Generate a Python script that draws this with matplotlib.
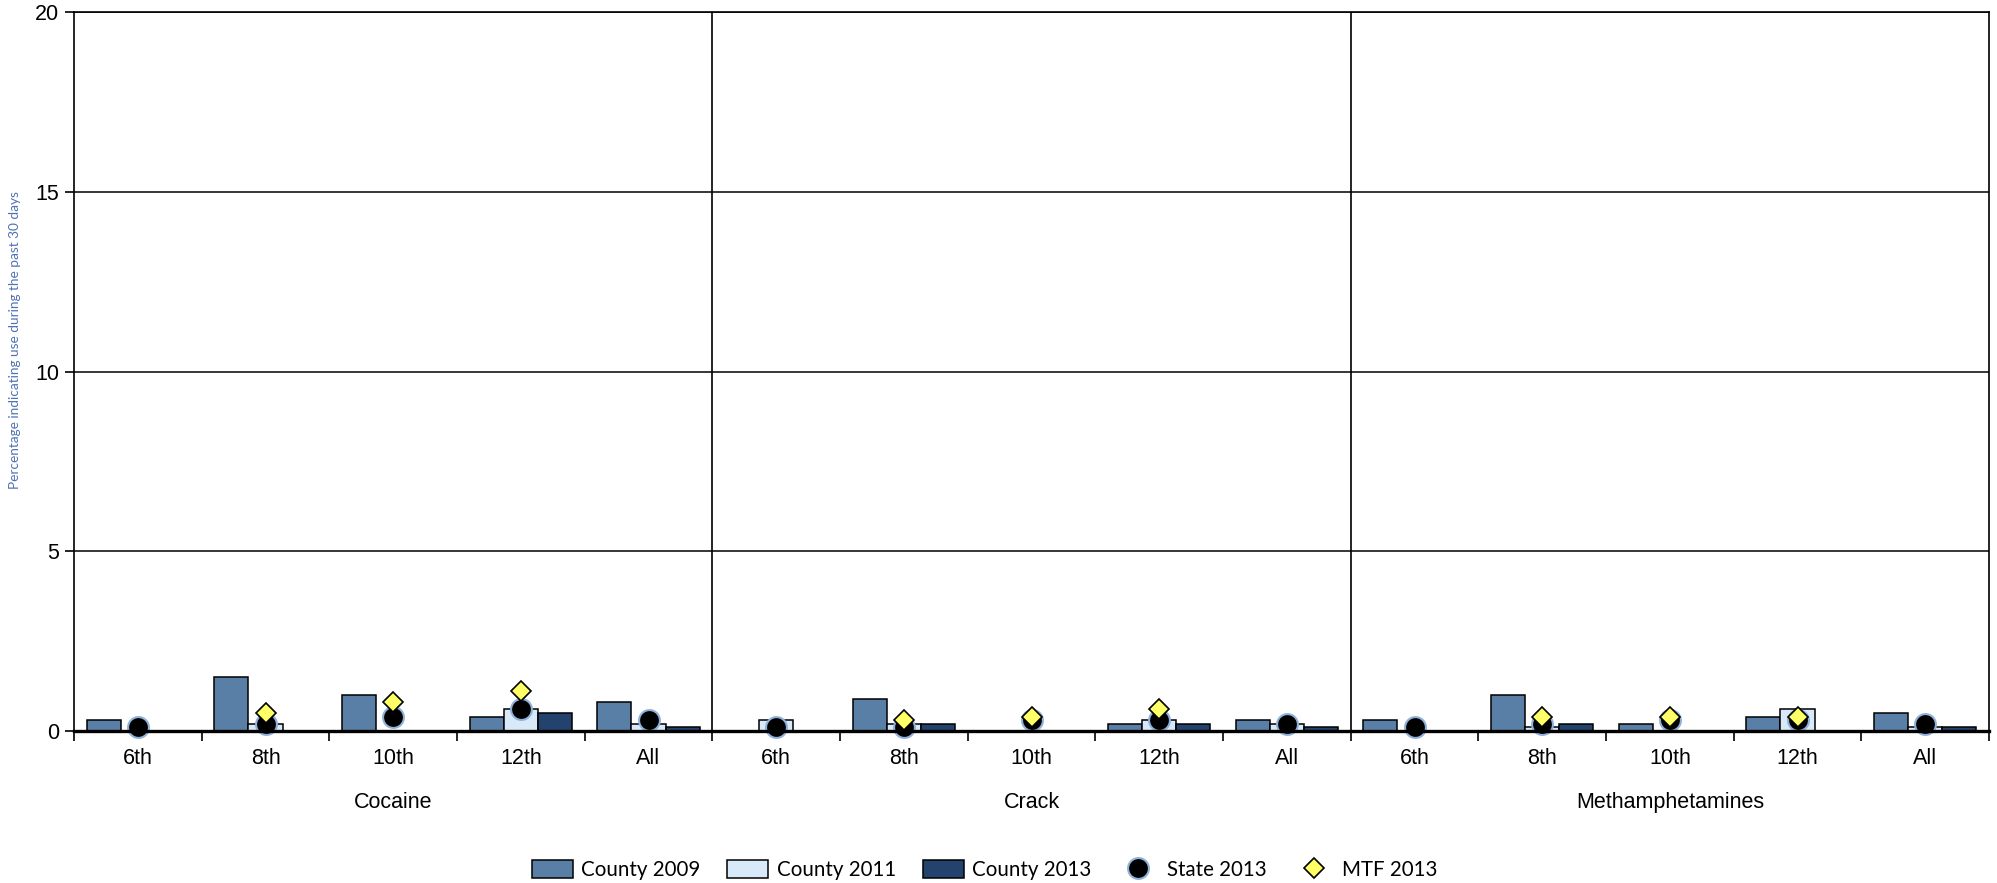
import numpy as np
import matplotlib
matplotlib.use("Agg")
import matplotlib.pyplot as plt
from matplotlib import font_manager
from matplotlib.lines import Line2D
from matplotlib.patches import Patch
from matplotlib.transforms import blended_transform_factory

# --- data (percent using in past 30 days), order: Cocaine, Crack, Methamphetamines ---
DRUGS = ["Cocaine", "Crack", "Methamphetamines"]
GRADES = ["6th", "8th", "10th", "12th", "All"]

county_2009 = [0.3, 1.5, 1.0, 0.4, 0.8,
               0.0, 0.9, 0.0, 0.2, 0.3,
               0.3, 1.0, 0.2, 0.4, 0.5]
county_2011 = [0.0, 0.2, 0.0, 0.6, 0.2,
               0.3, 0.2, 0.0, 0.3, 0.2,
               0.0, 0.1, 0.0, 0.6, 0.1]
county_2013 = [0.0, 0.0, 0.0, 0.5, 0.1,
               0.0, 0.2, 0.0, 0.2, 0.1,
               0.0, 0.2, 0.0, 0.0, 0.1]
state_2013 = [0.1, 0.2, 0.4, 0.6, 0.3,
              0.1, 0.1, 0.3, 0.3, 0.2,
              0.1, 0.2, 0.3, 0.3, 0.2]
mtf_2013 = [np.nan, 0.5, 0.8, 1.1, np.nan,
            np.nan, 0.3, 0.4, 0.6, np.nan,
            np.nan, 0.4, 0.4, 0.4, np.nan]

C09 = "#5a7fa7"
C11 = "#d8eafa"
C13 = "#23426d"
YCOL = "#4f72b4"

# condensed font for legend / y label if there is one, else a narrow-ish sans
_names = {f.name for f in font_manager.fontManager.ttflist}
if "Liberation Sans Narrow" in _names:
    NARROW, LEG_SIZE, YL_SIZE = "Liberation Sans Narrow", 17.5, 10.8
else:
    NARROW, LEG_SIZE, YL_SIZE = "Lato", 14.8, 9.8

plt.rcParams["font.family"] = ["Liberation Sans", "DejaVu Sans"]

fig = plt.figure(figsize=(19.97, 8.83), dpi=100)
ax = fig.add_axes([74 / 1997, 1 - 731 / 883, (1989 - 74) / 1997, (731 - 12) / 883])

n = len(DRUGS) * len(GRADES)
x = np.arange(n)
w = 0.267
bar_kw = dict(edgecolor="black", linewidth=1.1, zorder=3)
ax.bar(x - w, county_2009, w, color=C09, **bar_kw)
ax.bar(x, county_2011, w, color=C11, **bar_kw)
ax.bar(x + w, county_2013, w, color=C13, **bar_kw)
ax.plot(x, state_2013, "o", ms=15, mfc="black", mec="#8fb1da", mew=1.5,
        zorder=4, clip_on=False)
ax.plot(x, mtf_2013, "D", ms=10.5, mfc="#ffff66", mec="black", mew=1.2,
        zorder=5, clip_on=False)

ax.set_xlim(-0.5, n - 0.5)
ax.set_ylim(0, 20)
ax.set_yticks([0, 5, 10, 15, 20])
ax.tick_params(axis="y", length=6.5, width=1.2, pad=4, labelsize=15.5, direction="out")
ax.yaxis.grid(True, color="black", linewidth=1.1, zorder=1)

ax.set_xticks(x)
ax.set_xticklabels(GRADES * len(DRUGS))
ax.set_xticks(np.arange(-0.5, n, 1), minor=True)
ax.tick_params(axis="x", which="major", length=0, pad=12, labelsize=15.5)
ax.tick_params(axis="x", which="minor", length=7, width=1.2, direction="out")

for b in (4.5, 9.5):
    ax.axvline(b, color="black", linewidth=1.2, zorder=2)

for s in ("left", "right", "top"):
    ax.spines[s].set_linewidth(1.2)
ax.spines["bottom"].set_linewidth(2.4)
ax.spines["bottom"].set_zorder(6)

tr = blended_transform_factory(ax.transData, ax.transAxes)
for i, d in enumerate(DRUGS):
    ax.text(i * 5 + 2, -0.099, d, transform=tr, ha="center", va="center",
            fontsize=15.5)

fig.text(15 / 1997, 1 - 340 / 883, "Percentage indicating use during the past 30 days",
         rotation=90, ha="center", va="center", color=YCOL, fontsize=YL_SIZE,
         family=NARROW)

handles = [
    Patch(facecolor=C09, edgecolor="black", linewidth=1.1),
    Patch(facecolor=C11, edgecolor="black", linewidth=1.1),
    Patch(facecolor=C13, edgecolor="black", linewidth=1.1),
    Line2D([], [], linestyle="none", marker="o", ms=15, mfc="black", mec="#8fb1da", mew=1.5),
    Line2D([], [], linestyle="none", marker="D", ms=10.5, mfc="#ffff66", mec="black", mew=1.2),
]
labels = ["County 2009", "County 2011", "County 2013", "State 2013", "MTF 2013"]
hl = 41 / (LEG_SIZE * 100 / 72)
fig.legend(handles, labels, loc="center", bbox_to_anchor=(985 / 1997, 1 - 870 / 883),
           ncol=5, frameon=False, prop={"family": NARROW, "size": LEG_SIZE},
           handlelength=hl, handleheight=0.95, handletextpad=0.4, columnspacing=1.3)

fig.savefig("out.png", dpi=100)
